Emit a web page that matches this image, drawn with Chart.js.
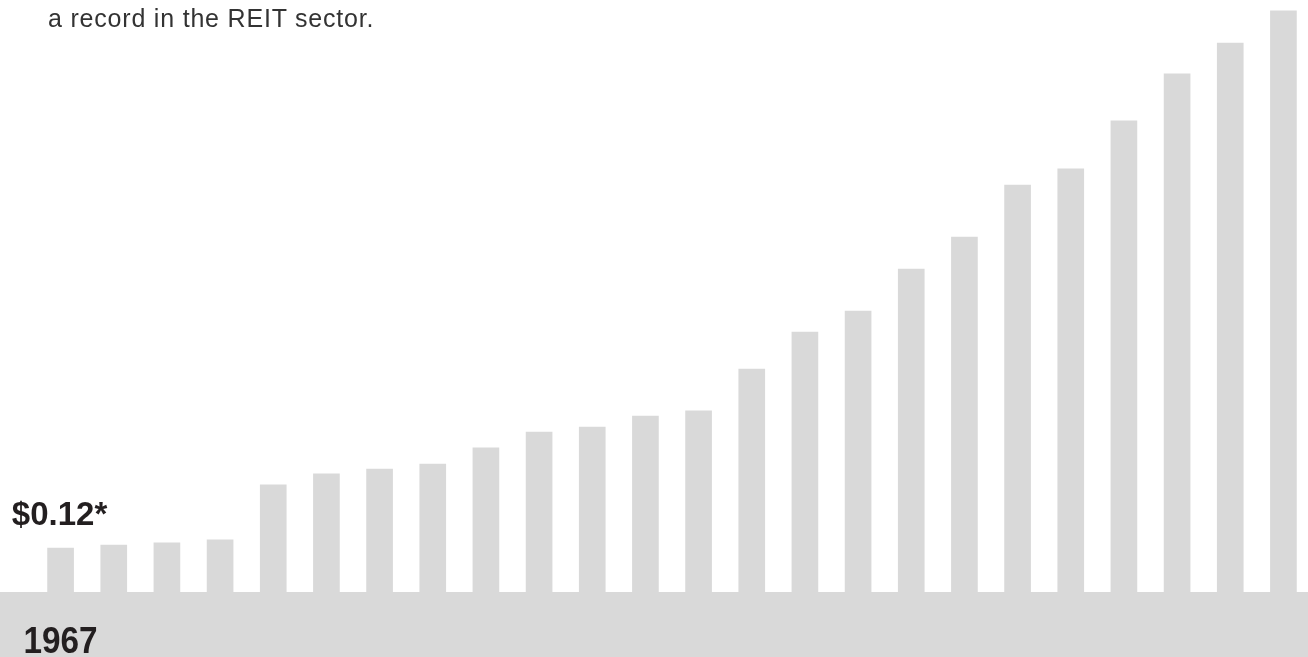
<!DOCTYPE html>
<html>
<head>
<meta charset="utf-8">
<title>REIT dividends</title>
<script src="https://cdn.jsdelivr.net/npm/chart.js@4"></script>
<style>
    html, body { margin: 0; padding: 0; background: #fff; overflow: hidden; }
    #wrap { position: relative; width: 1310px; height: 657px; }
    #note {
        position: absolute; left: 48px; top: 6px;
        font: 25px/25px "Liberation Sans", Arial, sans-serif;
        letter-spacing: 0.8px; color: #333; white-space: nowrap;
    }
</style>
</head>
<body>
<div id="wrap">
    <canvas id="dividendChart"></canvas>
    <div id="note">a record in the REIT sector.</div>
</div>
<script>
// Datos del gráfico
const years = ['1967', '', '', '', '', '', '', '', '', '', '', '',
               '', '', '', '', '', '', '', '', '', '', '', ''];
const dividends = [0.120, 0.128, 0.134, 0.142, 0.292, 0.322, 0.335, 0.349,
                   0.393, 0.436, 0.450, 0.480, 0.494, 0.608, 0.709, 0.766,
                   0.881, 0.968, 1.110, 1.154, 1.285, 1.413, 1.497, 1.585];
const yMax = 1.6145;

const grey = '#d9d9d9';
const ink = '#231f20';

// Banda gris inferior y etiquetas del primer año
const bandPlugin = {
    id: 'band',
    beforeDatasetsDraw(chart) {
        const x = chart.scales.x;
        const c = chart.ctx;
        c.save();
        c.fillStyle = grey;
        c.fillRect(0, x.top, chart.width, x.bottom - x.top);
        c.restore();
    },
    afterDatasetsDraw(chart) {
        const x = chart.scales.x;
        const first = chart.getDatasetMeta(0).data[0];
        const c = chart.ctx;
        c.save();
        c.fillStyle = ink;
        c.textAlign = 'center';
        c.textBaseline = 'alphabetic';

        c.font = 'bold 33px "Liberation Sans", Arial, sans-serif';
        c.fillText('$' + dividends[0].toFixed(2) + '*', first.x - 1, first.y - 23);

        c.translate(first.x, x.top + 61);
        c.scale(0.9, 1);
        c.font = 'bold 37px "Liberation Sans", Arial, sans-serif';
        c.fillText(years[0], 0, 0);
        c.restore();
    }
};

document.addEventListener('DOMContentLoaded', function() {
    const ctx = document.getElementById('dividendChart').getContext('2d');
    new Chart(ctx, {
        type: 'bar',
        data: {
            labels: years,
            datasets: [{
                data: dividends,
                backgroundColor: grey,
                barThickness: 26,
                borderWidth: 0
            }]
        },
        options: {
            responsive: true,
            maintainAspectRatio: false,
            animation: false,
            layout: { padding: { left: 34, right: 0, top: 0, bottom: 0 } },
            plugins: {
                legend: { display: false },
                tooltip: { enabled: false }
            },
            scales: {
                x: {
                    grid: { display: false },
                    border: { display: false },
                    ticks: { display: false },
                    afterFit: function(scale) { scale.height = 65; }
                },
                y: { display: false, min: 0, max: yMax }
            }
        },
        plugins: [bandPlugin]
    });
});
</script>
</body>
</html>
